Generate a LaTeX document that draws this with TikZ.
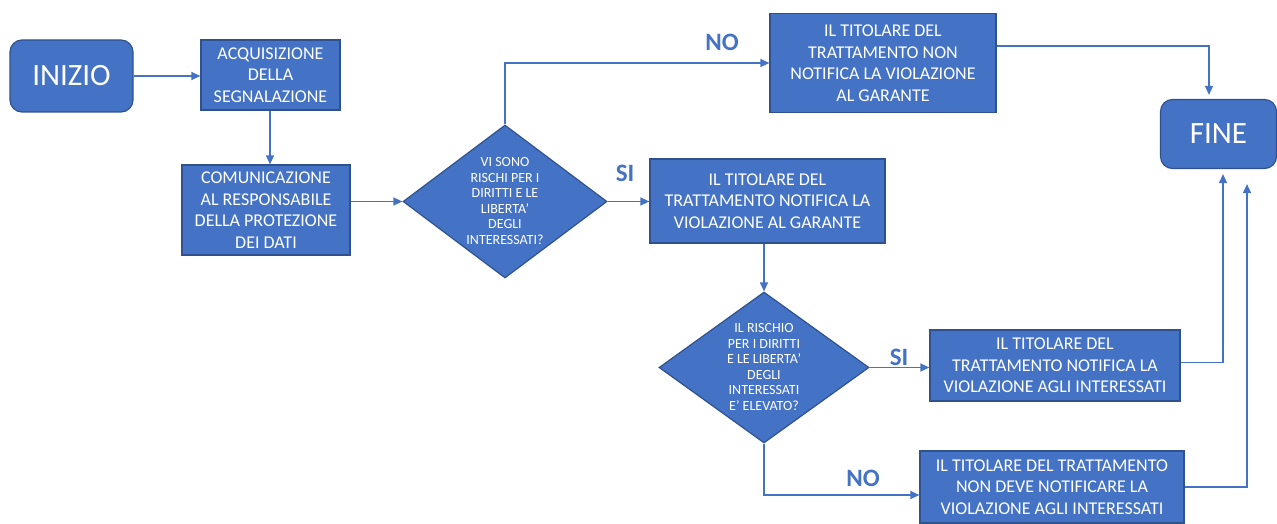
\documentclass[tikz,border=0pt]{standalone}
\usepackage{fontspec}
\setmainfont{Carlito}
\usetikzlibrary{shapes.geometric,arrows.meta,calc}
\definecolor{obox}{HTML}{4472C4}
\definecolor{oedge}{HTML}{2F528F}
\begin{document}
\begin{tikzpicture}[x=1pt,y=-1pt,
 box/.style={draw=oedge,line width=1.2pt,fill=obox,text=white,align=center,inner sep=0pt,font=\fontsize{18}{21.5}\selectfont},
 term/.style={box,rounded corners=12pt,font=\fontsize{31}{36}\selectfont},
 dia/.style={diamond,draw=oedge,line width=1.2pt,fill=obox,inner sep=0pt},
 dtext/.style={text=white,align=center,inner sep=0pt,font=\fontsize{14}{15.5}\selectfont},
 conn/.style={draw=obox,line width=1.2pt,-{Triangle[length=9pt,width=8pt]}},
 lab/.style={text=obox,font=\bfseries\fontsize{25}{28}\selectfont}]
\useasboundingbox (0,0) rectangle (1277,524);

% nodes
\node[term,minimum width=123pt,minimum height=72pt] (inizio) at (71.5,76) {INIZIO};
\node[box,minimum width=139pt,minimum height=70pt] (acq) at (270.5,75) {ACQUISIZIONE\\DELLA\\SEGNALAZIONE};
\node[box,minimum width=168pt,minimum height=90pt] (com) at (266,210) {COMUNICAZIONE\\AL RESPONSABILE\\DELLA PROTEZIONE\\DEI DATI};
\node[dia,minimum width=204pt,minimum height=153pt] (d1) at (505,201.5) {};
\node[dtext] (d1t) at (505,201) {VI SONO\\RISCHI PER I\\DIRITTI E LE\\LIBERTA’\\DEGLI\\INTERESSATI?};
\node[box,minimum width=226pt,minimum height=99pt] (notop) at (883,63) {IL TITOLARE DEL\\TRATTAMENTO NON\\NOTIFICA LA VIOLAZIONE\\AL GARANTE};
\node[term,minimum width=116pt,minimum height=69pt] (fine) at (1218.5,134) {FINE};
\node[box,minimum width=235pt,minimum height=84pt] (si1) at (767.5,201) {IL TITOLARE DEL\\TRATTAMENTO NOTIFICA LA\\VIOLAZIONE AL GARANTE};
\node[dia,minimum width=210pt,minimum height=151pt] (d2) at (764,367.5) {};
\node[dtext] (d2t) at (764,367) {IL RISCHIO\\PER I DIRITTI\\E LE LIBERTA’\\DEGLI\\INTERESSATI\\E’ ELEVATO?};
\node[box,minimum width=250pt,minimum height=71pt] (si2) at (1055,365.5) {IL TITOLARE DEL\\TRATTAMENTO NOTIFICA LA\\VIOLAZIONE AGLI INTERESSATI};
\node[box,minimum width=264pt,minimum height=72pt] (no2) at (1052,487) {IL TITOLARE DEL TRATTAMENTO\\NON DEVE NOTIFICARE LA\\VIOLAZIONE AGLI INTERESSATI};

% labels
\node[lab] (lno1) at (722,42) {NO};
\node[lab] (lsi1) at (625,173) {SI};
\node[lab] (lsi2) at (899,357) {SI};
\node[lab] (lno2) at (863,478) {NO};

% connectors
\draw[conn] (inizio.east) -- (inizio.east -| acq.west);
\draw[conn] (acq.south -| 270,0) -- (com.north -| 270,0);
\draw[conn] (com.east |- d1.west) -- (d1.west);
\draw[conn] (d1.north) |- (notop.west);
\draw[conn,shorten >=4pt] ([yshift=17pt]notop.east) -| ([xshift=-9.5pt]fine.north);
\draw[conn] (d1.east) -- (d1.east -| si1.west);
\draw[conn] (d2.north |- si1.south) -- (d2.north);
\draw[conn] (d2.east) -- (d2.east -| si2.west);
\draw[conn,shorten >=5pt] ([yshift=3pt]si2.east) -| ([xshift=4.5pt]fine.south);
\draw[conn] (d2.south) |- ([yshift=-8pt]no2.west);
\draw[conn,shorten >=15pt] (no2.east) -| ([xshift=28.5pt]fine.south);
\end{tikzpicture}
\end{document}
